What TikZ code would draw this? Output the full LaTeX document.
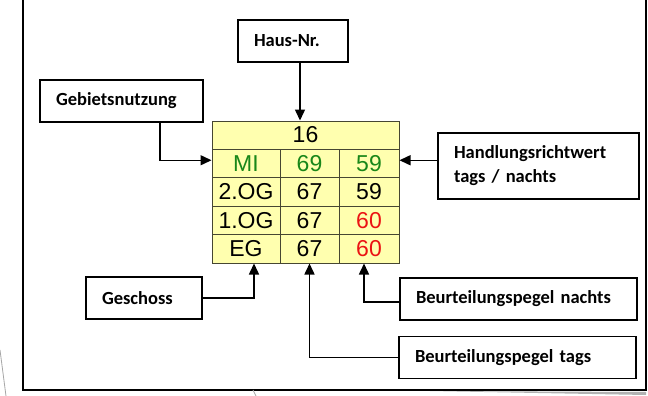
\documentclass[tikz,border=0pt]{standalone}
\usepackage{fontspec}
\setmainfont{Carlito}
\newfontfamily\tabfont{Liberation Sans}
\usetikzlibrary{arrows.meta}
\definecolor{cellfill}{RGB}{255,255,175}
\definecolor{cellline}{RGB}{70,70,50}
\definecolor{okgreen}{RGB}{25,135,25}
\definecolor{badred}{RGB}{235,20,20}
\tikzset{
  lbl/.style={draw, line width=1.5pt, font=\fontsize{18.5}{22}\selectfont\bfseries, align=left, inner sep=0pt},
  cell/.style={draw=cellline, fill=cellfill, line width=1pt, inner sep=0pt, font=\tabfont\fontsize{23}{25}\selectfont},
  arr/.style={line width=1.5pt, -{Triangle[length=11pt,width=10pt]}}
}
\begin{document}
\begin{tikzpicture}[x=1pt,y=-1pt]
\useasboundingbox (0,0) rectangle (648,396);

% frame of the slide
\draw[line width=1.5pt] (23,0)--(23,390)--(646,390)--(646,0);
\draw[gray!70, line width=0.8pt] (0,350)--(6,396);
\draw[gray!70, line width=0.8pt] (253,390)--(256,396);
\fill[gray!60] (430,391)--(646,392)--(646,395)--cycle;

% table
\node[cell, minimum width=187, minimum height=28] (nr) at (305.5,135) {16};
\node[cell, minimum width=68, minimum height=28.5, text=okgreen] (mi) at (246,163.25) {MI};
\node[cell, minimum width=59, minimum height=28.5, text=okgreen] (t1) at (309.5,163.25) {69};
\node[cell, minimum width=60, minimum height=28.5, text=okgreen] (n1) at (369,163.25) {59};
\node[cell, minimum width=68, minimum height=28.5] (og2) at (246,191.75) {2.OG};
\node[cell, minimum width=59, minimum height=28.5] (t2) at (309.5,191.75) {67};
\node[cell, minimum width=60, minimum height=28.5] (n2) at (369,191.75) {59};
\node[cell, minimum width=68, minimum height=28.5] (og1) at (246,220.25) {1.OG};
\node[cell, minimum width=59, minimum height=28.5] (t3) at (309.5,220.25) {67};
\node[cell, minimum width=60, minimum height=28.5, text=badred] (n3) at (369,220.25) {60};
\node[cell, minimum width=68, minimum height=28.5] (eg) at (246,248.75) {EG};
\node[cell, minimum width=59, minimum height=28.5] (t4) at (309.5,248.75) {67};
\node[cell, minimum width=60, minimum height=28.5, text=badred] (n4) at (369,248.75) {60};

% labels
\node[lbl, minimum width=110, minimum height=42, text width=78] (haus) at (293,41) {Haus-Nr.};
\node[lbl, minimum width=163, minimum height=42, text width=131] (geb) at (121.5,101) {Gebietsnutzung};
\node[lbl, minimum width=201, minimum height=66, text width=169] (hrw) at (538.5,166) {Handlungsrichtwert\\[2pt]tags / nachts};
\node[lbl, minimum width=116, minimum height=42, text width=84] (gesch) at (144,298) {Geschoss};
\node[lbl, minimum width=237, minimum height=42, text width=205] (bpn) at (518.5,299) {Beurteilungspegel nachts};
\node[lbl, minimum width=237, minimum height=42, text width=205] (bpt) at (517.5,357.5) {Beurteilungspegel tags};

% arrows
\draw[arr] ([xshift=7]haus.south) -- ([xshift=7]haus.south |- nr.north);
\draw[arr] ([xshift=38.5]geb.south) |- ([yshift=3]mi.west);
\draw[arr] ([yshift=3]hrw.west |- n1) -- ([yshift=3]n1.east);
\draw[arr] (gesch.east) -| ([xshift=8]eg.south);
\draw[arr] (bpt.west) -| (t4.south);
\draw[arr] ([yshift=-3]bpn.west) -| ([xshift=-5]n4.south);

\end{tikzpicture}
\end{document}
